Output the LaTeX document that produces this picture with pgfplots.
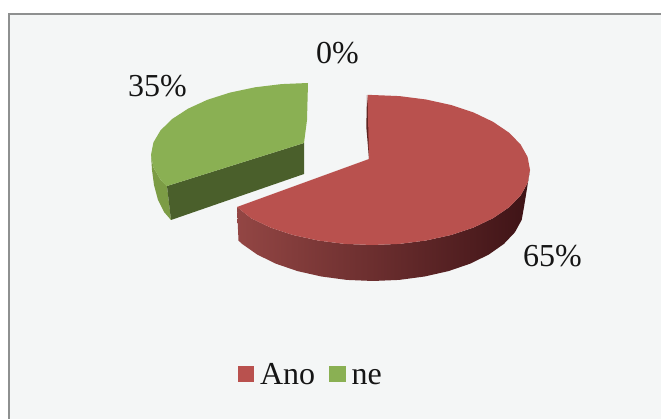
\documentclass[border=0pt]{standalone}
\usepackage{fontspec}
\setmainfont{Liberation Serif}
\usepackage{pgfplots}
\pgfplotsset{compat=1.18}
\definecolor{panel}{HTML}{F4F6F6}
\definecolor{frameg}{HTML}{8E9090}
\definecolor{redtop}{HTML}{B9514E}
\definecolor{greentop}{HTML}{8AB053}
\definecolor{greenin}{HTML}{4A5F2B}
\definecolor{greenout}{HTML}{7C9C45}
\definecolor{redin}{HTML}{5E2320}
\definecolor{sideL}{HTML}{934644}
\definecolor{sideM}{HTML}{652D2E}
\definecolor{sideR}{HTML}{3E1316}
\definecolor{txt}{HTML}{151515}
\begin{document}
\begin{tikzpicture}
\begin{axis}[
  scale only axis, width=661pt, height=419pt,
  xmin=0, xmax=661, ymin=0, ymax=419, y dir=reverse,
  axis lines=none, no markers, clip=true,
  legend style={at={(axis cs:237.5,374)},anchor=west,draw=none,fill=none,inner sep=0pt,outer sep=0pt,
    font=\fontsize{32}{34}\selectfont\color{txt},
    nodes={inner sep=0pt,text depth=0pt,anchor=base},
    /tikz/every odd column/.style={column sep=6pt},
    /tikz/every even column/.style={column sep=14pt}},
  legend columns=2,
  legend image code/.code={\fill[#1] (0pt,2.5pt) rectangle (16.5pt,19pt);},
  legend cell align=left,
]
% background panel and frame
\addplot[forget plot, draw=none, fill=white] coordinates {(0,0)(661,0)(661,419)(0,419)} -- cycle;
\addplot[forget plot, draw=none, fill=panel] coordinates {(8,14)(661,14)(661,419)(8,419)} -- cycle;
\addplot[forget plot, draw=frameg, line width=2pt] coordinates {(9,419)(9,14.5)(661,14.5)};
% red side wall
\addplot[forget plot, draw=none, left color=sideL, middle color=sideM, right color=sideR] coordinates {
 (530,170)(527.6,183)(520.5,195.7)(508.8,207.5)(493,218.2)(473.6,227.5)(451,235)(426,240.5)(399.4,243.9)(372,245)(344.6,243.9)(318,240.5)(293,235)(270.4,227.5)(251,218.2)(237,207)
 (238.5,240.6)(242.2,244)(257.3,254.6)(275.9,263.7)(297.5,271.1)(321.4,276.5)(346.8,279.9)(373,281)(399.2,279.9)(424.6,276.5)(448.5,271.1)(470.1,263.7)(488.7,254.6)(503.8,244)(514.9,232.3)(521.7,219.9)(524,207)} -- cycle;
% red inner sliver
\addplot[forget plot, draw=none, fill=redin] coordinates {(367,95)(366.3,127)(369,159)(370,127)} -- cycle;
% red top (65 %)
\addplot[draw=none, fill=redtop] coordinates {
 (367.5,95)(372,95)(399.4,96.1)(426,99.5)(451,105)(473.6,112.5)(493,121.8)(508.8,132.5)(520.5,144.3)(527.6,157)(530,170)(527.6,183)(520.5,195.7)(508.8,207.5)(493,218.2)(473.6,227.5)(451,235)(426,240.5)(399.4,243.9)(372,245)(344.6,243.9)(318,240.5)(293,235)(270.4,227.5)(251,218.2)(237,207)(369,159)} -- cycle;
\addlegendentry{Ano}
% green walls
\addplot[forget plot, draw=none, fill=greenout] coordinates {(151,155)(153.4,167.5)(160.5,179.6)(167,186)(171,220)(164,212)(158,200)(154,185)(152,170)} -- cycle;
\addplot[forget plot, draw=none, fill=greenin] coordinates {(167,186)(304,143)(304,174)(171,220)} -- cycle;
% green top (35 %)
\addplot[draw=none, fill=greentop] coordinates {
 (308,83)(281.6,84.1)(255,87.3)(230,92.6)(207.4,99.8)(188,108.7)(172.2,119)(160.5,130.4)(153.4,142.5)(151,155)(153.4,167.5)(160.5,179.6)(165.8,185.4)(167,186)(304,143)(307,120)} -- cycle;
\addlegendentry{ne}
% data labels
\node[anchor=base west,inner sep=0pt,text=txt,font=\fontsize{32}{34}\selectfont] at (axis cs:316,64) {0\%};
\node[anchor=base west,inner sep=0pt,text=txt,font=\fontsize{32}{34}\selectfont] at (axis cs:128,97) {35\%};
\node[anchor=base west,inner sep=0pt,text=txt,font=\fontsize{32}{34}\selectfont] at (axis cs:523,267) {65\%};
\end{axis}
\end{tikzpicture}
\end{document}
